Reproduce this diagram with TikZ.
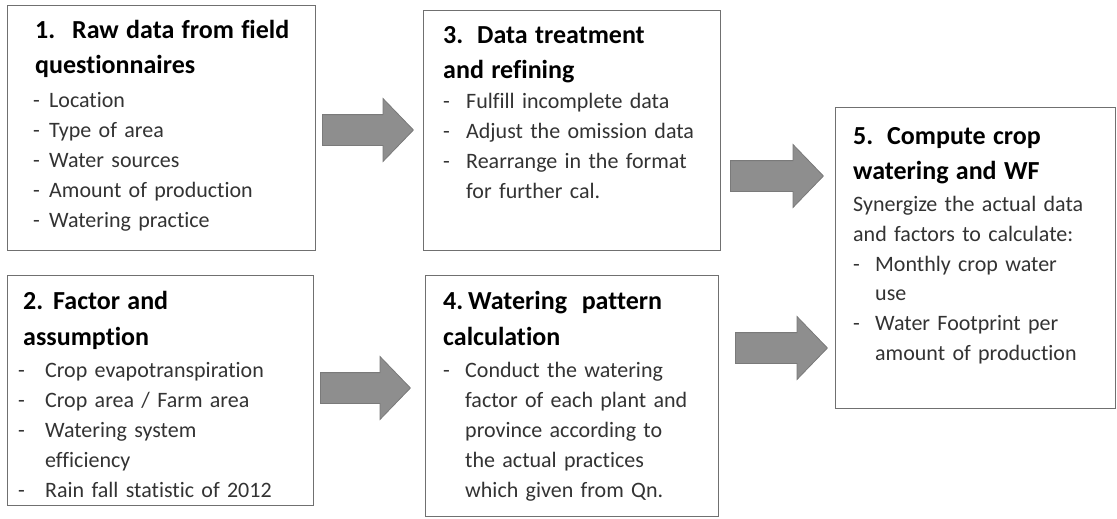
\documentclass[tikz,border=0pt]{standalone}
\usepackage{fontspec}
\setmainfont{Carlito}[Ligatures=NoCommon]
\usetikzlibrary{shapes.arrows}
\definecolor{boxline}{HTML}{707070}
\definecolor{arrfill}{HTML}{8E8E8E}
\definecolor{arrline}{HTML}{7A7A7A}
\definecolor{bodytext}{HTML}{333333}
\newcommand{\hd}[3]{{\fontsize{26}{30}\selectfont\bfseries\color{black}\makebox[#2][l]{#1}#3}}
\newcommand{\hdl}[1]{{\fontsize{26}{30}\selectfont\bfseries\color{black}#1}}
\newcommand{\bl}[2]{\makebox[#1][l]{-}#2}
\tikzset{
  box/.style={draw=boxline, line width=1.4pt, fill=white, anchor=north west, inner sep=0pt},
  txt/.style={anchor=base west, inner sep=0pt, text width=290pt, align=left, text=bodytext,
    font=\fontsize{22}{30}\selectfont},
  blockarrow/.style={single arrow, draw=arrline, fill=arrfill, line width=0.8pt,
    inner xsep=0pt, inner ysep=15pt, anchor=tail,
    single arrow head extend=16pt, single arrow tip angle=92, minimum width=62pt}
}
\begin{document}
\begin{tikzpicture}[x=1pt,y=-1pt]
\useasboundingbox (0,0) rectangle (1117,519);
% boxes
\node[box, minimum width=308pt, minimum height=245pt] (b1) at (7,5) {};
\node[box, minimum width=297pt, minimum height=240pt] (b3) at (423,10) {};
\node[box, minimum width=306pt, minimum height=230pt] (b2) at (7,275) {};
\node[box, minimum width=293pt, minimum height=241pt] (b4) at (425,275) {};
\node[box, minimum width=280pt, minimum height=301pt] (b5) at (835,107) {};
% texts
\node[txt] (t1) at (35,39) {\hd{1.}{37pt}{Raw data from field}\\[5pt]
\hdl{questionnaires}\\[4pt]
\hspace*{-2pt}\bl{16pt}{Location}\\
\hspace*{-2pt}\bl{16pt}{Type of area}\\
\hspace*{-2pt}\bl{16pt}{Water sources}\\
\hspace*{-2pt}\bl{16pt}{Amount of production}\\
\hspace*{-2pt}\bl{16pt}{Watering practice}};
\node[txt] (t3) at (443,44) {\hd{3.}{34pt}{Data treatment}\\[5pt]
\hdl{and refining}\\[0pt]
\bl{23pt}{Fulfill incomplete data}\\
\bl{23pt}{Adjust the omission data}\\
\bl{23pt}{Rearrange in the format}\\
\hspace*{23pt}for further cal.};
\node[txt] (t2) at (23,309) {\hd{2.}{30pt}{Factor and}\\[6pt]
\hdl{assumption}\\[2pt]
\hspace*{-5pt}\bl{27pt}{Crop evapotranspiration}\\
\hspace*{-5pt}\bl{27pt}{Crop area / Farm area}\\
\hspace*{-5pt}\bl{27pt}{Watering system}\\
\hspace*{22pt}efficiency\\
\hspace*{-5pt}\bl{27pt}{Rain fall statistic of 2012}};
\node[txt] (t4) at (443,309) {\hd{4.}{25pt}{Watering~ pattern}\\[6pt]
\hdl{calculation}\\[2pt]
\bl{22pt}{Conduct the watering}\\
\hspace*{22pt}factor of each plant and\\
\hspace*{22pt}province according to\\
\hspace*{22pt}the actual practices\\
\hspace*{22pt}which given from Qn.};
\node[txt] (t5) at (853,144) {\hd{5.}{34pt}{Compute crop}\\[5pt]
\hdl{watering and WF}\\[2pt]
Synergize the actual data\\
and factors to calculate:\\
\bl{22pt}{Monthly crop water}\\
\hspace*{22pt}use\\
\bl{22pt}{Water Footprint per}\\
\hspace*{22pt}amount of production};
% arrows
\node[blockarrow, minimum height=91pt] (a1) at (322,130) {};
\node[blockarrow, minimum height=90pt] (a2) at (320,388) {};
\node[blockarrow, minimum height=93pt] (a3) at (730,176) {};
\node[blockarrow, minimum height=92pt] (a4) at (735,348) {};
\end{tikzpicture}
\end{document}
